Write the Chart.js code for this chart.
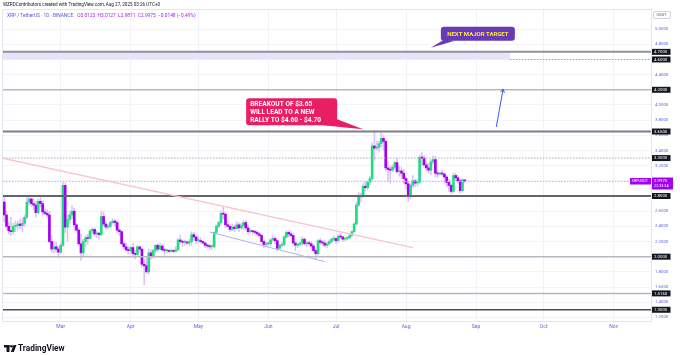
<!DOCTYPE html>
<html>
<head>
<meta charset="utf-8">
<script src="https://cdn.jsdelivr.net/npm/chart.js@4.4.1/dist/chart.umd.min.js"></script>
<style>
  html, body { margin: 0; padding: 0; background: #fff; overflow: hidden; }
</style>
</head>
<body>
<canvas id="chart" width="680" height="355"></canvas>
<script>
// daily XRP/USDT candles, one per day starting on firstDay
const firstDay = "2025-02-04";
const firstOpen = 2.72;
const closes = [
  2.55, 2.40, 2.34, 2.33, 2.40, 2.41, 2.43, 2.41, 2.44, 2.52, 2.72, 2.76, 2.70, 2.68, 2.58, 2.73, 2.70, 2.59, 2.57, 2.55, 2.20, 2.10, 2.13, 2.10, 2.06,
  2.15, 2.94, 2.39, 2.49, 2.55, 2.60, 2.42, 2.35, 2.17, 2.05, 2.20, 2.25, 2.24, 2.34, 2.36, 2.30, 2.31, 2.29, 2.53, 2.43, 2.39, 2.40, 2.45, 2.47, 2.45, 2.35, 2.33, 2.17, 2.13, 2.09, 2.08,
  2.12, 2.04, 2.03, 2.13, 2.10, 1.90, 1.88, 1.80, 2.05, 2.01, 2.08, 2.15, 2.10, 2.14, 2.09, 2.08, 2.08, 2.07, 2.08, 2.07, 2.09, 2.22, 2.20, 2.19, 2.19, 2.18, 2.20, 2.29, 2.26, 2.21,
  2.21, 2.20, 2.18, 2.15, 2.14, 2.13, 2.13, 2.32, 2.40, 2.45, 2.57, 2.56, 2.42, 2.40, 2.36, 2.39, 2.37, 2.42, 2.38, 2.41, 2.45, 2.38, 2.33, 2.34, 2.33, 2.32, 2.30, 2.28, 2.20, 2.16, 2.17,
  2.17, 2.22, 2.24, 2.21, 2.11, 2.15, 2.16, 2.26, 2.32, 2.30, 2.28, 2.18, 2.15, 2.16, 2.18, 2.23, 2.17, 2.18, 2.17, 2.14, 2.08, 2.04, 2.21, 2.19, 2.18, 2.15, 2.17, 2.20, 2.23, 2.24,
  2.21, 2.27, 2.26, 2.23, 2.24, 2.25, 2.28, 2.33, 2.43, 2.68, 2.80, 2.79, 2.93, 2.91, 2.98, 3.03, 3.46, 3.43, 3.44, 3.49, 3.56, 3.52, 3.17, 3.15, 3.14, 3.18, 3.24, 3.12, 3.13, 3.10, 3.03,
  2.96, 2.79, 2.94, 3.00, 2.97, 2.98, 3.31, 3.30, 3.21, 3.17, 3.14, 3.25, 3.28, 3.10, 3.09, 3.10, 3.09, 3.05, 2.98, 2.94, 2.86, 3.07, 3.04, 3.00, 2.87, 3.0123, 2.9975
];
const highs = [
  2.79, 2.60, 2.46, 2.52, 2.44, 2.47, 2.47, 2.50, 2.51, 2.55, 2.78, 2.81, 2.77, 2.76, 2.73, 2.76, 2.78, 2.74, 2.63, 2.62, 2.60, 2.28, 2.20, 2.19, 2.13,
  2.19, 2.98, 2.97, 2.55, 2.60, 2.68, 2.64, 2.44, 2.37, 2.30, 2.23, 2.28, 2.30, 2.36, 2.38, 2.38, 2.34, 2.32, 2.60, 2.59, 2.47, 2.43, 2.47, 2.50, 2.49, 2.47, 2.37, 2.34, 2.20, 2.17, 2.13,
  2.14, 2.18, 2.08, 2.15, 2.14, 2.12, 1.97, 1.98, 2.10, 2.09, 2.10, 2.16, 2.17, 2.18, 2.16, 2.11, 2.10, 2.09, 2.10, 2.10, 2.13, 2.24, 2.28, 2.22, 2.22, 2.21, 2.23, 2.33, 2.32, 2.27,
  2.26, 2.25, 2.21, 2.20, 2.17, 2.16, 2.16, 2.33, 2.42, 2.47, 2.60, 2.65, 2.58, 2.48, 2.42, 2.43, 2.42, 2.46, 2.45, 2.44, 2.47, 2.48, 2.42, 2.37, 2.35, 2.35, 2.34, 2.32, 2.30, 2.22, 2.19,
  2.19, 2.24, 2.27, 2.26, 2.22, 2.17, 2.19, 2.28, 2.34, 2.34, 2.34, 2.30, 2.20, 2.18, 2.20, 2.26, 2.25, 2.20, 2.21, 2.20, 2.16, 2.10, 2.23, 2.24, 2.22, 2.21, 2.19, 2.22, 2.25, 2.27,
  2.25, 2.29, 2.31, 2.27, 2.25, 2.27, 2.30, 2.34, 2.45, 2.72, 2.85, 2.84, 2.97, 2.99, 3.00, 3.06, 3.50, 3.66, 3.52, 3.52, 3.63, 3.59, 3.54, 3.25, 3.20, 3.21, 3.26, 3.30, 3.19, 3.18, 3.15,
  3.05, 2.99, 2.96, 3.07, 3.02, 3.01, 3.34, 3.38, 3.33, 3.24, 3.23, 3.28, 3.33, 3.32, 3.14, 3.12, 3.14, 3.10, 3.07, 3.02, 2.96, 3.10, 3.10, 3.07, 3.02, 3.03, 3.0127
];
const lows = [
  2.46, 2.36, 2.30, 2.28, 2.30, 2.33, 2.36, 2.37, 2.33, 2.40, 2.50, 2.68, 2.66, 2.62, 2.52, 2.56, 2.65, 2.55, 2.55, 2.52, 2.18, 2.06, 2.05, 2.06, 1.99,
  2.04, 2.13, 2.32, 2.20, 2.44, 2.50, 2.35, 2.32, 2.15, 1.95, 2.00, 2.13, 2.16, 2.23, 2.30, 2.27, 2.25, 2.23, 2.28, 2.40, 2.36, 2.37, 2.38, 2.43, 2.40, 2.32, 2.28, 2.15, 2.10, 2.07, 2.03,
  2.05, 2.00, 1.97, 2.00, 2.07, 1.86, 1.63, 1.78, 1.77, 1.96, 1.98, 2.05, 2.07, 2.09, 2.07, 2.02, 2.05, 2.05, 2.06, 2.05, 2.06, 2.08, 2.17, 2.13, 2.15, 2.16, 2.14, 2.15, 2.22, 2.17,
  2.18, 2.18, 2.17, 2.12, 2.12, 2.09, 2.10, 2.12, 2.30, 2.38, 2.42, 2.50, 2.38, 2.38, 2.33, 2.34, 2.33, 2.36, 2.33, 2.36, 2.35, 2.36, 2.30, 2.31, 2.29, 2.30, 2.28, 2.26, 2.18, 2.12, 2.13,
  2.14, 2.14, 2.20, 2.17, 2.08, 2.10, 2.13, 2.14, 2.24, 2.26, 2.26, 2.17, 2.08, 2.12, 2.14, 2.15, 2.15, 2.13, 2.15, 2.10, 2.06, 1.96, 2.02, 2.16, 2.15, 2.13, 2.12, 2.15, 2.18, 2.20,
  2.17, 2.19, 2.24, 2.20, 2.21, 2.22, 2.23, 2.26, 2.32, 2.42, 2.66, 2.72, 2.78, 2.86, 2.88, 2.95, 3.00, 3.27, 3.40, 3.38, 3.45, 3.40, 3.13, 3.00, 2.97, 3.12, 3.15, 3.10, 3.06, 3.03, 2.96,
  2.89, 2.73, 2.76, 2.91, 2.92, 2.93, 2.97, 3.20, 3.18, 3.13, 3.10, 3.08, 3.22, 3.05, 3.04, 3.07, 3.06, 2.97, 2.92, 2.86, 2.83, 2.84, 3.00, 2.97, 2.84, 2.85, 2.9811
];

// time axis: month starts and their names
const monthStarts = ["2025-03-01", "2025-04-01", "2025-05-01", "2025-06-01", "2025-07-01", "2025-08-01", "2025-09-01", "2025-10-01", "2025-11-01"];
const monthNames = ["Mar", "Apr", "May", "Jun", "Jul", "Aug", "Sep", "Oct", "Nov"];
// price axis ticks
const priceTicks = [1.2, 1.4, 1.6, 1.8, 2.0, 2.2, 2.4, 2.6, 2.8, 3.0, 3.2, 3.4, 3.6, 3.8, 4.0, 4.2, 4.4, 4.6, 4.8, 5.0];

// horizontal levels drawn on the chart
const levels = [4.7, 4.6, 4.2, 3.65, 3.3, 2.8, 2.0, 1.516, 1.3];
const targetBand = { from: "2025-02-03", to: "2025-09-16", low: 4.6, high: 4.7 };
const trendDown = { from: ["2025-02-03", 3.30], to: ["2025-08-04", 2.12] };
const channelLow = { from: ["2025-05-06", 2.325], to: ["2025-06-26", 1.935] };
const upArrow = { from: ["2025-09-10", 3.71], to: ["2025-09-13", 4.21] };
const breakoutNote = { at: ["2025-07-13", 3.68], lines: ["BREAKOUT OF $3.65", "WILL LEAD TO A NEW", "RALLY TO $4.60 - $4.70"] };
const targetNote = { at: ["2025-08-12", 4.755], lines: ["NEXT MAJOR TARGET"] };

const FONT = 'Roboto, "Liberation Sans", sans-serif';
const UP = '#1fdc82';
const DOWN = '#a100f2';
const WICK = '#dcc2f2';
const AXIS_TEXT = '#5b5ff0';

const dayZero = Date.UTC(2025, 2, 1);
function dayNo(s) {
  const p = s.split('-').map(Number);
  return (Date.UTC(p[0], p[1] - 1, p[2]) - dayZero) / 86400000;
}

const startDay = dayNo(firstDay);
const days = closes.map((c, i) => startDay + i);
const opens = closes.map((c, i) => i === 0 ? firstOpen : closes[i - 1]);
const monthTicks = monthStarts.map(dayNo);
const last = closes.length - 1;

const drawings = {
  id: 'drawings',
  afterDatasetsDraw(chart) {
    const { ctx, chartArea: a, scales: { x, y } } = chart;
    const px = (d) => x.getPixelForValue(dayNo(d));
    const line = (p1, p2, color, w, dash) => {
      ctx.beginPath();
      ctx.setLineDash(dash || []);
      ctx.strokeStyle = color;
      ctx.lineWidth = w;
      ctx.moveTo(p1[0], p1[1]);
      ctx.lineTo(p2[0], p2[1]);
      ctx.stroke();
      ctx.setLineDash([]);
    };
    ctx.save();
    ctx.beginPath();
    ctx.rect(a.left, a.top, a.right - a.left, a.bottom - a.top);
    ctx.clip();

    // target band
    const bandEnd = px(targetBand.to);
    const bTop = y.getPixelForValue(targetBand.high), bBot = y.getPixelForValue(targetBand.low);
    ctx.fillStyle = '#e7e3fb';
    ctx.fillRect(px(targetBand.from), bTop, bandEnd - px(targetBand.from), bBot - bTop);

    // current price line
    const cy = Math.round(y.getPixelForValue(closes[last])) + 0.5;
    line([a.left, cy], [a.right, cy], '#d9a8f5', 1, [1.5, 1.5]);

    const look = {
      4.7: ['#8f929b', 2],
      4.6: ['#9a9da6', 1, [1.5, 1.5]],
      4.2: ['#b4b7bf', 1.5],
      3.65: ['#7c7f88', 2],
      3.3: ['#a9acb4', 1, [1.5, 1.5]],
      2.8: ['#62656e', 2],
      2.0: ['#b4b7bf', 1.5],
      1.516: ['#b4b7bf', 1.5],
      1.3: ['#4a4d56', 1.5]
    };
    levels.forEach(v => {
      const st = look[v];
      const ly = y.getPixelForValue(v);
      const x0 = v === targetBand.low ? bandEnd : a.left;
      line([x0, ly], [a.right, ly], st[0], st[1], st[2]);
    });

    // trend lines
    const pt = (p) => [px(p[0]), y.getPixelForValue(p[1])];
    line(pt(trendDown.from), pt(trendDown.to), '#f9c3cf', 1.3);
    line(pt(channelLow.from), pt(channelLow.to), '#aab0f4', 1);

    // arrow
    const s = pt(upArrow.from), e = pt(upArrow.to);
    line(s, e, '#3a55f5', 1);
    const ang = Math.atan2(e[1] - s[1], e[0] - s[0]);
    ctx.beginPath();
    ctx.strokeStyle = '#3a55f5';
    ctx.lineWidth = 1;
    ctx.moveTo(e[0] - 4 * Math.cos(ang - 0.5), e[1] - 4 * Math.sin(ang - 0.5));
    ctx.lineTo(e[0], e[1]);
    ctx.lineTo(e[0] - 4 * Math.cos(ang + 0.5), e[1] - 4 * Math.sin(ang + 0.5));
    ctx.stroke();

    // breakout callout
    let t = pt(breakoutNote.at);
    let bx = t[0] - 117, by = t[1] - 31, bw = 91, bh = 27;
    ctx.fillStyle = '#e91e63';
    ctx.beginPath();
    ctx.roundRect(bx, by, bw, bh, 3);
    ctx.fill();
    ctx.beginPath();
    ctx.moveTo(bx + bw - 14, by + bh);
    ctx.lineTo(t[0], t[1]);
    ctx.lineTo(bx + bw, by + bh - 6);
    ctx.closePath();
    ctx.fill();
    ctx.fillStyle = '#ffffff';
    ctx.font = 'bold 6.6px ' + FONT;
    ctx.textBaseline = 'middle';
    ctx.textAlign = 'left';
    breakoutNote.lines.forEach((l, i) => ctx.fillText(l, bx + 4, by + 6.5 + i * 7.6));

    // target callout
    t = pt(targetNote.at);
    bx = t[0] + 10; by = t[1] - 21; bw = 74; bh = 14;
    ctx.fillStyle = '#673ab7';
    ctx.beginPath();
    ctx.roundRect(bx, by, bw, bh, 3);
    ctx.fill();
    ctx.beginPath();
    ctx.moveTo(bx + 3, by + bh - 1);
    ctx.lineTo(t[0], t[1]);
    ctx.lineTo(bx + 14, by + bh);
    ctx.closePath();
    ctx.fill();
    ctx.fillStyle = '#ffe733';
    ctx.font = 'bold 6px ' + FONT;
    ctx.textAlign = 'center';
    ctx.fillText(targetNote.lines[0], bx + bw / 2, by + bh / 2 + 0.5);
    ctx.restore();
  },
  afterDraw(chart) {
    const { ctx, chartArea: a, scales: { y } } = chart;
    ctx.save();
    ctx.textBaseline = 'middle';

    // pane border
    ctx.strokeStyle = '#e3e6ee';
    ctx.lineWidth = 1;
    ctx.strokeRect(a.left - 0.5, a.top - 0.5, a.right - a.left + 1, a.bottom - a.top + 1);

    // level labels on the price axis
    ctx.font = '4.3px ' + FONT;
    levels.forEach(v => {
      const ly = y.getPixelForValue(v);
      ctx.fillStyle = '#131722';
      ctx.fillRect(a.right + 1, ly - 3, 18.5, 6);
      ctx.fillStyle = '#ffffff';
      ctx.textAlign = 'left';
      ctx.fillText(v.toFixed(4), a.right + 3, ly + 0.3);
    });

    // current price label
    const cy = y.getPixelForValue(closes[last]);
    ctx.fillStyle = '#a100f2';
    ctx.fillRect(a.right + 1, cy - 3.5, 21, 12);
    ctx.fillRect(a.right - 21, cy - 3, 21, 6.5);
    ctx.fillStyle = '#ffffff';
    ctx.fillText(closes[last].toFixed(4), a.right + 3, cy);
    ctx.font = '3.8px ' + FONT;
    ctx.fillText('22:33:34', a.right + 3, cy + 5);
    ctx.fillText('XRPUSDT', a.right - 19.5, cy + 0.3);

    // currency box
    ctx.strokeStyle = '#d1d4dc';
    ctx.beginPath();
    ctx.roundRect(a.right + 2.5, 11.5, 17, 7, 1.5);
    ctx.stroke();
    ctx.fillStyle = '#50535e';
    ctx.font = '4px ' + FONT;
    ctx.fillText('USDT', a.right + 5.5, 15.2);

    // header
    ctx.fillStyle = '#131722';
    ctx.font = '4.6px ' + FONT;
    ctx.fillText('WZRDContributors created with TradingView.com, Aug 27, 2025 03:26 UTC+0', 3, 5);
    ctx.font = '4.8px ' + FONT;
    ctx.fillStyle = '#5257e6';
    const head = 'XRP / TetherUS \u00b7 1D \u00b7 BINANCE';
    ctx.fillText(head, 7, 15.5);
    const chg = closes[last] - opens[last];
    const vals = 'O' + opens[last].toFixed(4) + '  H' + highs[last].toFixed(4) + '  L' + lows[last].toFixed(4) +
      '  C' + closes[last].toFixed(4) + '  ' + (chg < 0 ? '\u2212' : '+') + Math.abs(chg).toFixed(4) +
      ' (' + (chg < 0 ? '\u2212' : '+') + Math.abs(chg / opens[last] * 100).toFixed(2) + '%)';
    ctx.fillStyle = '#a318f0';
    ctx.fillText(vals, 7 + ctx.measureText(head).width + 4, 15.5);

    // TradingView logo
    ctx.fillStyle = '#131722';
    ctx.fillRect(4, 345, 5.5, 2.5);
    ctx.fillRect(6.5, 345, 3, 7);
    ctx.beginPath();
    ctx.arc(11.5, 346.3, 1.3, 0, Math.PI * 2);
    ctx.fill();
    ctx.beginPath();
    ctx.moveTo(13.5, 345); ctx.lineTo(16.5, 345); ctx.lineTo(13.8, 352); ctx.lineTo(10.8, 352);
    ctx.closePath();
    ctx.fill();
    ctx.font = 'bold 8.3px ' + FONT;
    ctx.fillText('TradingView', 18, 348.7);
    ctx.restore();
  }
};

new Chart(document.getElementById('chart'), {
  type: 'bar',
  data: {
    datasets: [
      {
        // candle bodies
        order: 0,
        data: days.map((d, i) => ({ x: d, y: [opens[i], closes[i]] })),
        backgroundColor: days.map((d, i) => closes[i] >= opens[i] ? UP : DOWN),
        barThickness: 2,
        minBarLength: 1,
        grouped: false,
        borderWidth: 0
      },
      {
        // wicks
        order: 1,
        data: days.map((d, i) => ({ x: d, y: [lows[i], highs[i]] })),
        backgroundColor: WICK,
        barThickness: 0.9,
        grouped: false,
        borderWidth: 0
      }
    ]
  },
  options: {
    responsive: false,
    animation: false,
    events: [],
    layout: { padding: { left: 3, top: 10, right: 0, bottom: 20 } },
    plugins: { legend: { display: false }, tooltip: { enabled: false } },
    scales: {
      x: {
        type: 'linear',
        offset: false,
        min: -25.56,
        max: 261.53,
        afterBuildTicks: s => { s.ticks = monthTicks.map(v => ({ value: v })); },
        afterFit: s => { s.height = 14; },
        ticks: {
          autoSkip: false,
          maxRotation: 0,
          padding: 3,
          color: AXIS_TEXT,
          font: { size: 5, family: FONT },
          callback: v => monthNames[monthTicks.indexOf(v)]
        },
        grid: { color: '#f0f2f8', drawTicks: false, offset: false },
        border: { color: '#b9bbf7' }
      },
      y: {
        position: 'right',
        min: 1.152,
        max: 5.252,
        afterBuildTicks: s => { s.ticks = priceTicks.map(v => ({ value: v })); },
        afterFit: s => { s.width = 29; },
        ticks: {
          padding: 4,
          color: AXIS_TEXT,
          font: { size: 4.3, family: FONT },
          callback: v => v.toFixed(4)
        },
        grid: { color: '#f2f4f9', drawTicks: false },
        border: { color: '#b9bbf7' }
      }
    }
  },
  plugins: [drawings]
});
</script>
</body>
</html>
